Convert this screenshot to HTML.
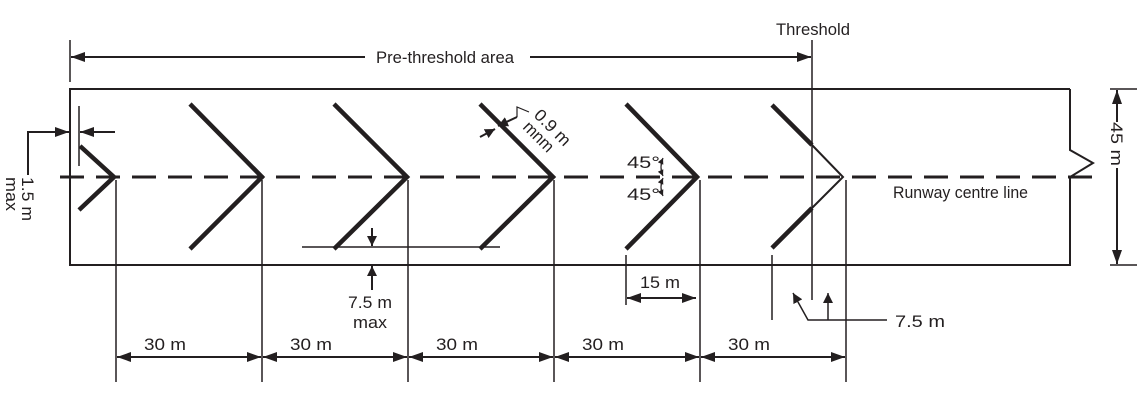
<!DOCTYPE html>
<html><head><meta charset="utf-8"><style>
html,body{margin:0;padding:0;background:#fff;}
svg{display:block;}
text{font-family:"Liberation Sans",sans-serif;fill:#231f20;}
</style></head><body>
<svg width="1147" height="404" viewBox="0 0 1147 404" xmlns="http://www.w3.org/2000/svg">
<defs>
<marker id="a" viewBox="0 0 10 10" refX="10" refY="5" markerWidth="10" markerHeight="10" markerUnits="userSpaceOnUse" orient="auto-start-reverse">
<path d="M0,0 L10,5 L0,10 Z" fill="#231f20"/></marker>
<marker id="s" viewBox="0 0 10 10" refX="10" refY="5" markerWidth="7" markerHeight="6" markerUnits="userSpaceOnUse" orient="auto-start-reverse">
<path d="M0,0 L10,5 L0,10 Z" fill="#231f20"/></marker>
<marker id="b" viewBox="0 0 14 10" refX="14" refY="5" markerWidth="14" markerHeight="10" markerUnits="userSpaceOnUse" orient="auto-start-reverse">
<path d="M0,0 L14,5 L0,10 Z" fill="#231f20"/></marker>
</defs>
<g stroke="#231f20" fill="none">
<path d="M1070,89 L70,89 L70,265 L1070,265 L1070,177 L1093,163 L1070,150 L1070,89" stroke-width="2"/>
<line x1="60" y1="177" x2="1100" y2="177" stroke-width="3" stroke-dasharray="24,12"/>
<g stroke-width="4.5" stroke-linecap="butt">
<path d="M80,146 L114,177 L79,210"/>
<path d="M190,104 L262,177 L190,249"/>
<path d="M334,104 L407,177 L334,249"/>
<path d="M480,104 L553,177 L480,249"/>
<path d="M626,104 L697,177 L626,249"/>
<path d="M772,105 L812,145"/>
<path d="M772,248 L812,208"/>
</g>
<path d="M812,145 L843,177 L812,208" stroke-width="2"/>
<line x1="812" y1="40" x2="812" y2="300" stroke-width="1.5"/>
<line x1="70" y1="40" x2="70" y2="82" stroke-width="1.5"/>
<line x1="71" y1="57" x2="365" y2="57" stroke-width="2" marker-start="url(#b)"/>
<line x1="530" y1="57" x2="811" y2="57" stroke-width="2" marker-end="url(#b)"/>
<g stroke-width="1.5">
<line x1="116" y1="180" x2="116" y2="382"/>
<line x1="262" y1="180" x2="262" y2="382"/>
<line x1="408" y1="180" x2="408" y2="382"/>
<line x1="554" y1="180" x2="554" y2="382"/>
<line x1="700" y1="180" x2="700" y2="382"/>
<line x1="846" y1="180" x2="846" y2="382"/>
</g>
<g stroke-width="2">
<line x1="117" y1="357" x2="261" y2="357" marker-start="url(#b)" marker-end="url(#b)"/>
<line x1="263" y1="357" x2="407" y2="357" marker-start="url(#b)" marker-end="url(#b)"/>
<line x1="409" y1="357" x2="553" y2="357" marker-start="url(#b)" marker-end="url(#b)"/>
<line x1="555" y1="357" x2="699" y2="357" marker-start="url(#b)" marker-end="url(#b)"/>
<line x1="701" y1="357" x2="845" y2="357" marker-start="url(#b)" marker-end="url(#b)"/>
</g>
<line x1="626" y1="255" x2="626" y2="305" stroke-width="1.5"/>
<line x1="627" y1="298" x2="696" y2="298" stroke-width="2" marker-start="url(#b)" marker-end="url(#b)"/>
<line x1="302" y1="247" x2="500" y2="247" stroke-width="1.5"/>
<line x1="372" y1="228" x2="372" y2="246" stroke-width="2" marker-end="url(#a)"/>
<line x1="372" y1="290" x2="372" y2="266" stroke-width="2" marker-end="url(#a)"/>
<line x1="772" y1="255" x2="772" y2="320" stroke-width="1.5"/>
<line x1="828" y1="320" x2="828" y2="293" stroke-width="1.5" marker-end="url(#a)"/>
<path d="M887,320 L808,320 L793,293" stroke-width="1.5" marker-end="url(#a)"/>
<line x1="1110" y1="89" x2="1137" y2="89" stroke-width="1.5"/>
<line x1="1110" y1="265" x2="1137" y2="265" stroke-width="1.5"/>
<line x1="1117" y1="122" x2="1117" y2="90" stroke-width="2" marker-end="url(#b)"/>
<line x1="1117" y1="168" x2="1117" y2="264" stroke-width="2" marker-end="url(#b)"/>
<line x1="79" y1="106" x2="79" y2="166" stroke-width="1.5"/>
<line x1="115" y1="132" x2="80" y2="132" stroke-width="2" marker-end="url(#b)"/>
<path d="M28,175 L28,132 L69,132" stroke-width="2" marker-end="url(#b)"/>
<path d="M517,117 L498,126" stroke-width="2" marker-end="url(#a)"/>
<path d="M480,137 L495,129" stroke-width="2" marker-end="url(#a)"/>
<path d="M517,117 L517,107 L529,112" stroke-width="1.2"/>
<path d="M663,158 Q659,167 663,176" stroke-width="1.2" marker-start="url(#s)" marker-end="url(#s)"/>
<path d="M663,178 Q659,187 663,196" stroke-width="1.2" marker-start="url(#s)" marker-end="url(#s)"/>
</g>
<g font-size="17" lengthAdjust="spacingAndGlyphs">
<text x="376" y="63" textLength="138" lengthAdjust="spacingAndGlyphs">Pre-threshold area</text>
<text x="776" y="35" textLength="74" lengthAdjust="spacingAndGlyphs">Threshold</text>
<text x="893" y="198" textLength="135" lengthAdjust="spacingAndGlyphs">Runway centre line</text>
<text x="144" y="350" textLength="42" lengthAdjust="spacingAndGlyphs">30 m</text>
<text x="290" y="350" textLength="42" lengthAdjust="spacingAndGlyphs">30 m</text>
<text x="436" y="350" textLength="42" lengthAdjust="spacingAndGlyphs">30 m</text>
<text x="582" y="350" textLength="42" lengthAdjust="spacingAndGlyphs">30 m</text>
<text x="728" y="350" textLength="42" lengthAdjust="spacingAndGlyphs">30 m</text>
<text x="640" y="288" textLength="40" lengthAdjust="spacingAndGlyphs">15 m</text>
<text x="348" y="308" textLength="44" lengthAdjust="spacingAndGlyphs">7.5 m</text>
<text x="353" y="328" textLength="34" lengthAdjust="spacingAndGlyphs">max</text>
<text x="895" y="327" textLength="50" lengthAdjust="spacingAndGlyphs">7.5 m</text>
<text x="627" y="168" textLength="33" lengthAdjust="spacingAndGlyphs">45°</text>
<text x="627" y="200" textLength="33" lengthAdjust="spacingAndGlyphs">45°</text>
<text transform="translate(1111,122) rotate(90)" textLength="44" lengthAdjust="spacingAndGlyphs">45 m</text>
<text transform="translate(22,177) rotate(90)" textLength="44" lengthAdjust="spacingAndGlyphs">1.5 m</text>
<text transform="translate(6,177) rotate(90)" textLength="34" lengthAdjust="spacingAndGlyphs">max</text>
<text transform="translate(533,116) rotate(45)" textLength="44" lengthAdjust="spacingAndGlyphs">0.9 m</text>
<text transform="translate(522,128) rotate(45)" textLength="36" lengthAdjust="spacingAndGlyphs">mnm</text>
</g>
</svg>
</body></html>
